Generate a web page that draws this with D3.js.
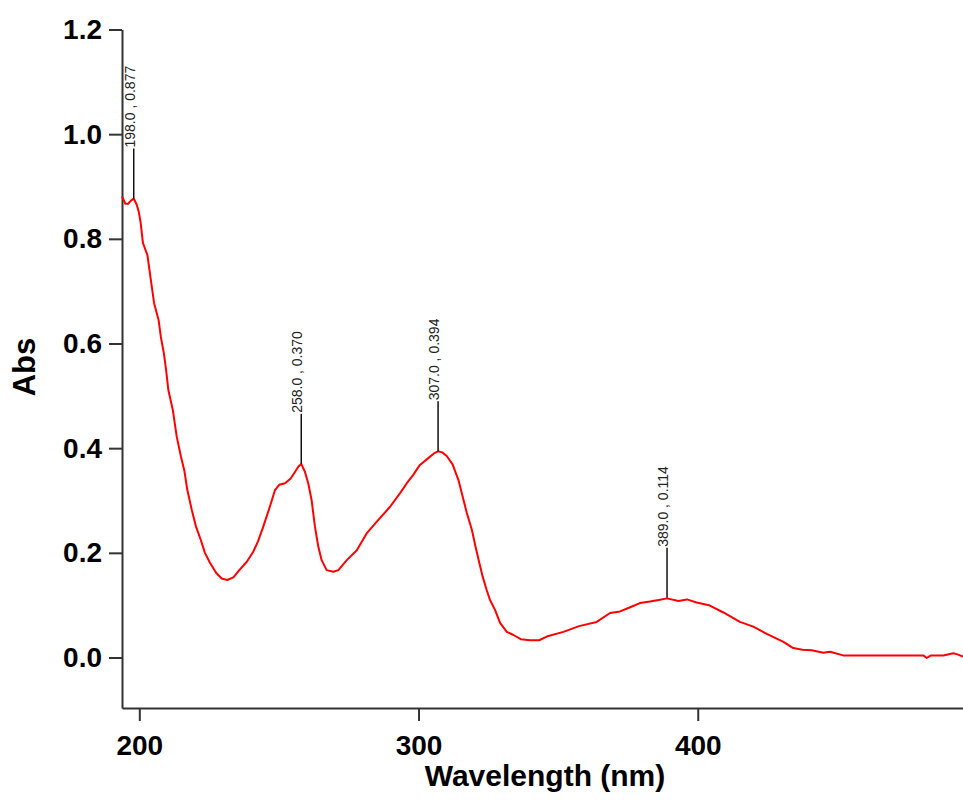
<!DOCTYPE html>
<html>
<head>
<meta charset="utf-8">
<script src="https://cdn.jsdelivr.net/npm/d3@7"></script>
<style>
  html, body { margin: 0; padding: 0; background: #fff; }
  svg { display: block; }
  text { font-family: "Liberation Sans", Arial, sans-serif; }
</style>
</head>
<body>
<svg id="chart" width="963" height="800"></svg>
<script>
// ---- data ----
const wavelength = [
  193.8, 195.0, 196.0, 197.0, 198.0, 199.0, 199.8, 200.5, 201.3, 202.9,
  204.3, 205.3, 206.9, 207.7, 208.8, 209.6, 210.4, 212.0, 213.4, 214.9,
  216.1, 217.2, 218.8, 220.3, 222.0, 223.5, 225.3, 227.5, 229.5, 231.5,
  233.7, 235.8, 238.5, 240.8, 242.5, 244.4, 246.8, 248.6, 250.1, 252.2,
  254.2, 255.8, 257.0, 258.0, 259.3, 260.5, 261.7, 262.9, 264.1, 265.3,
  267.1, 269.5, 271.3, 274.3, 277.9, 281.4, 285.6, 289.8, 293.4, 295.8,
  298.1, 300.5, 303.5, 305.5, 307.0, 308.5, 310.1, 312.2, 314.3, 315.5,
  317.3, 319.1, 320.4, 321.8, 323.0, 324.4, 325.6, 327.4, 329.2, 331.6,
  334.0, 336.6, 340.0, 343.2, 345.9, 351.9, 357.5, 363.8, 368.6, 372.2,
  375.8, 379.3, 382.9, 386.0, 389.0, 393.1, 396.1, 399.6, 404.0, 409.2,
  415.1, 419.9, 424.7, 430.7, 434.2, 437.5, 440.8, 445.0, 447.4, 452.1,
  460.0, 470.0, 480.8, 482.0, 483.5, 488.0, 491.5, 493.0, 495.0
];
const absorbance = [
  0.881, 0.867, 0.867, 0.873, 0.877, 0.866, 0.852, 0.830, 0.792, 0.769,
  0.715, 0.677, 0.645, 0.613, 0.581, 0.549, 0.511, 0.473, 0.422, 0.384,
  0.358, 0.320, 0.282, 0.250, 0.225, 0.200, 0.181, 0.162, 0.151, 0.148,
  0.153, 0.167, 0.183, 0.202, 0.222, 0.250, 0.289, 0.320, 0.330, 0.333,
  0.342, 0.355, 0.365, 0.370, 0.355, 0.333, 0.301, 0.250, 0.212, 0.186,
  0.167, 0.164, 0.167, 0.186, 0.205, 0.237, 0.263, 0.288, 0.314, 0.333,
  0.349, 0.368, 0.381, 0.390, 0.394, 0.392, 0.385, 0.369, 0.339, 0.314,
  0.276, 0.244, 0.212, 0.180, 0.154, 0.129, 0.110, 0.091, 0.066, 0.049,
  0.043, 0.035, 0.033, 0.033, 0.040, 0.049, 0.060, 0.068, 0.085, 0.088,
  0.096, 0.104, 0.107, 0.110, 0.113, 0.108, 0.111, 0.105, 0.100, 0.086,
  0.068, 0.059, 0.045, 0.030, 0.018, 0.015, 0.014, 0.009, 0.011, 0.004,
  0.004, 0.004, 0.004, -0.001, 0.004, 0.004, 0.008, 0.006, 0.002
];
const peakWavelength = [198.0, 258.0, 307.0, 389.0];
const peakAbs = [0.877, 0.370, 0.394, 0.114];
const peakLabels = ["198.0 , 0.877", "258.0 , 0.370", "307.0 , 0.394", "389.0 , 0.114"];
const xTicks = [200, 300, 400];
const yTicks = [0.0, 0.2, 0.4, 0.6, 0.8, 1.0, 1.2];
const xTitle = "Wavelength (nm)";
const yTitle = "Abs";

// ---- scales ----
const svg = d3.select("#chart");
const x = d3.scaleLinear().domain([193.8, 495.0]).range([122, 963]);
const y = d3.scaleLinear().domain([-0.0965, 1.2]).range([708, 29.5]);

const axisColor = "#333";

// ---- axes ----
const gx = svg.append("g").attr("transform", "translate(0,708)")
  .call(d3.axisBottom(x).tickValues(xTicks).tickFormat(d3.format("d"))
    .tickSize(13).tickSizeOuter(0).tickPadding(14));
const gy = svg.append("g").attr("transform", "translate(122,0)")
  .call(d3.axisLeft(y).tickValues(yTicks).tickFormat(d3.format(".1f"))
    .tickSize(13).tickSizeOuter(0).tickPadding(7));

[gx, gy].forEach(g => {
  g.select(".domain").attr("stroke", axisColor).attr("stroke-width", 2);
  g.selectAll(".tick line").attr("stroke", axisColor).attr("stroke-width", 2);
  g.selectAll(".tick text")
    .attr("fill", "#000")
    .style("font-family", "'Liberation Sans', Arial, sans-serif")
    .style("font-size", "28px")
    .style("font-weight", "bold");
});

// ---- titles ----
svg.append("text")
  .attr("x", 545).attr("y", 786)
  .attr("text-anchor", "middle")
  .style("font-size", "30px").style("font-weight", "bold")
  .attr("fill", "#000")
  .text(xTitle);

svg.append("text")
  .attr("transform", "translate(35,367) rotate(-90)")
  .attr("text-anchor", "middle")
  .style("font-size", "31px").style("font-weight", "bold")
  .attr("fill", "#000")
  .text(yTitle);

// ---- spectrum ----
const pts = wavelength.map((w, i) => [w, absorbance[i]]);
svg.append("path")
  .datum(pts)
  .attr("fill", "none")
  .attr("stroke", "#ff0000")
  .attr("stroke-width", 2)
  .attr("stroke-linejoin", "round")
  .attr("d", d3.line().x(d => x(d[0])).y(d => y(d[1])));

// ---- peak annotations ----
const peaks = peakWavelength.map((w, i) => ({ w, a: peakAbs[i], label: peakLabels[i] }));
const ann = svg.append("g").selectAll("g").data(peaks).join("g");
ann.append("line")
  .attr("x1", d => x(d.w)).attr("x2", d => x(d.w))
  .attr("y1", d => y(d.a)).attr("y2", d => y(d.a) - 50)
  .attr("stroke", "#111").attr("stroke-width", 1.5);
ann.append("text")
  .attr("transform", d => `translate(${x(d.w) + 1},${y(d.a) - 51}) rotate(-90)`)
  .attr("text-anchor", "start")
  .style("font-size", "14px")
  .attr("fill", "#222")
  .text(d => d.label);
</script>
</body>
</html>
